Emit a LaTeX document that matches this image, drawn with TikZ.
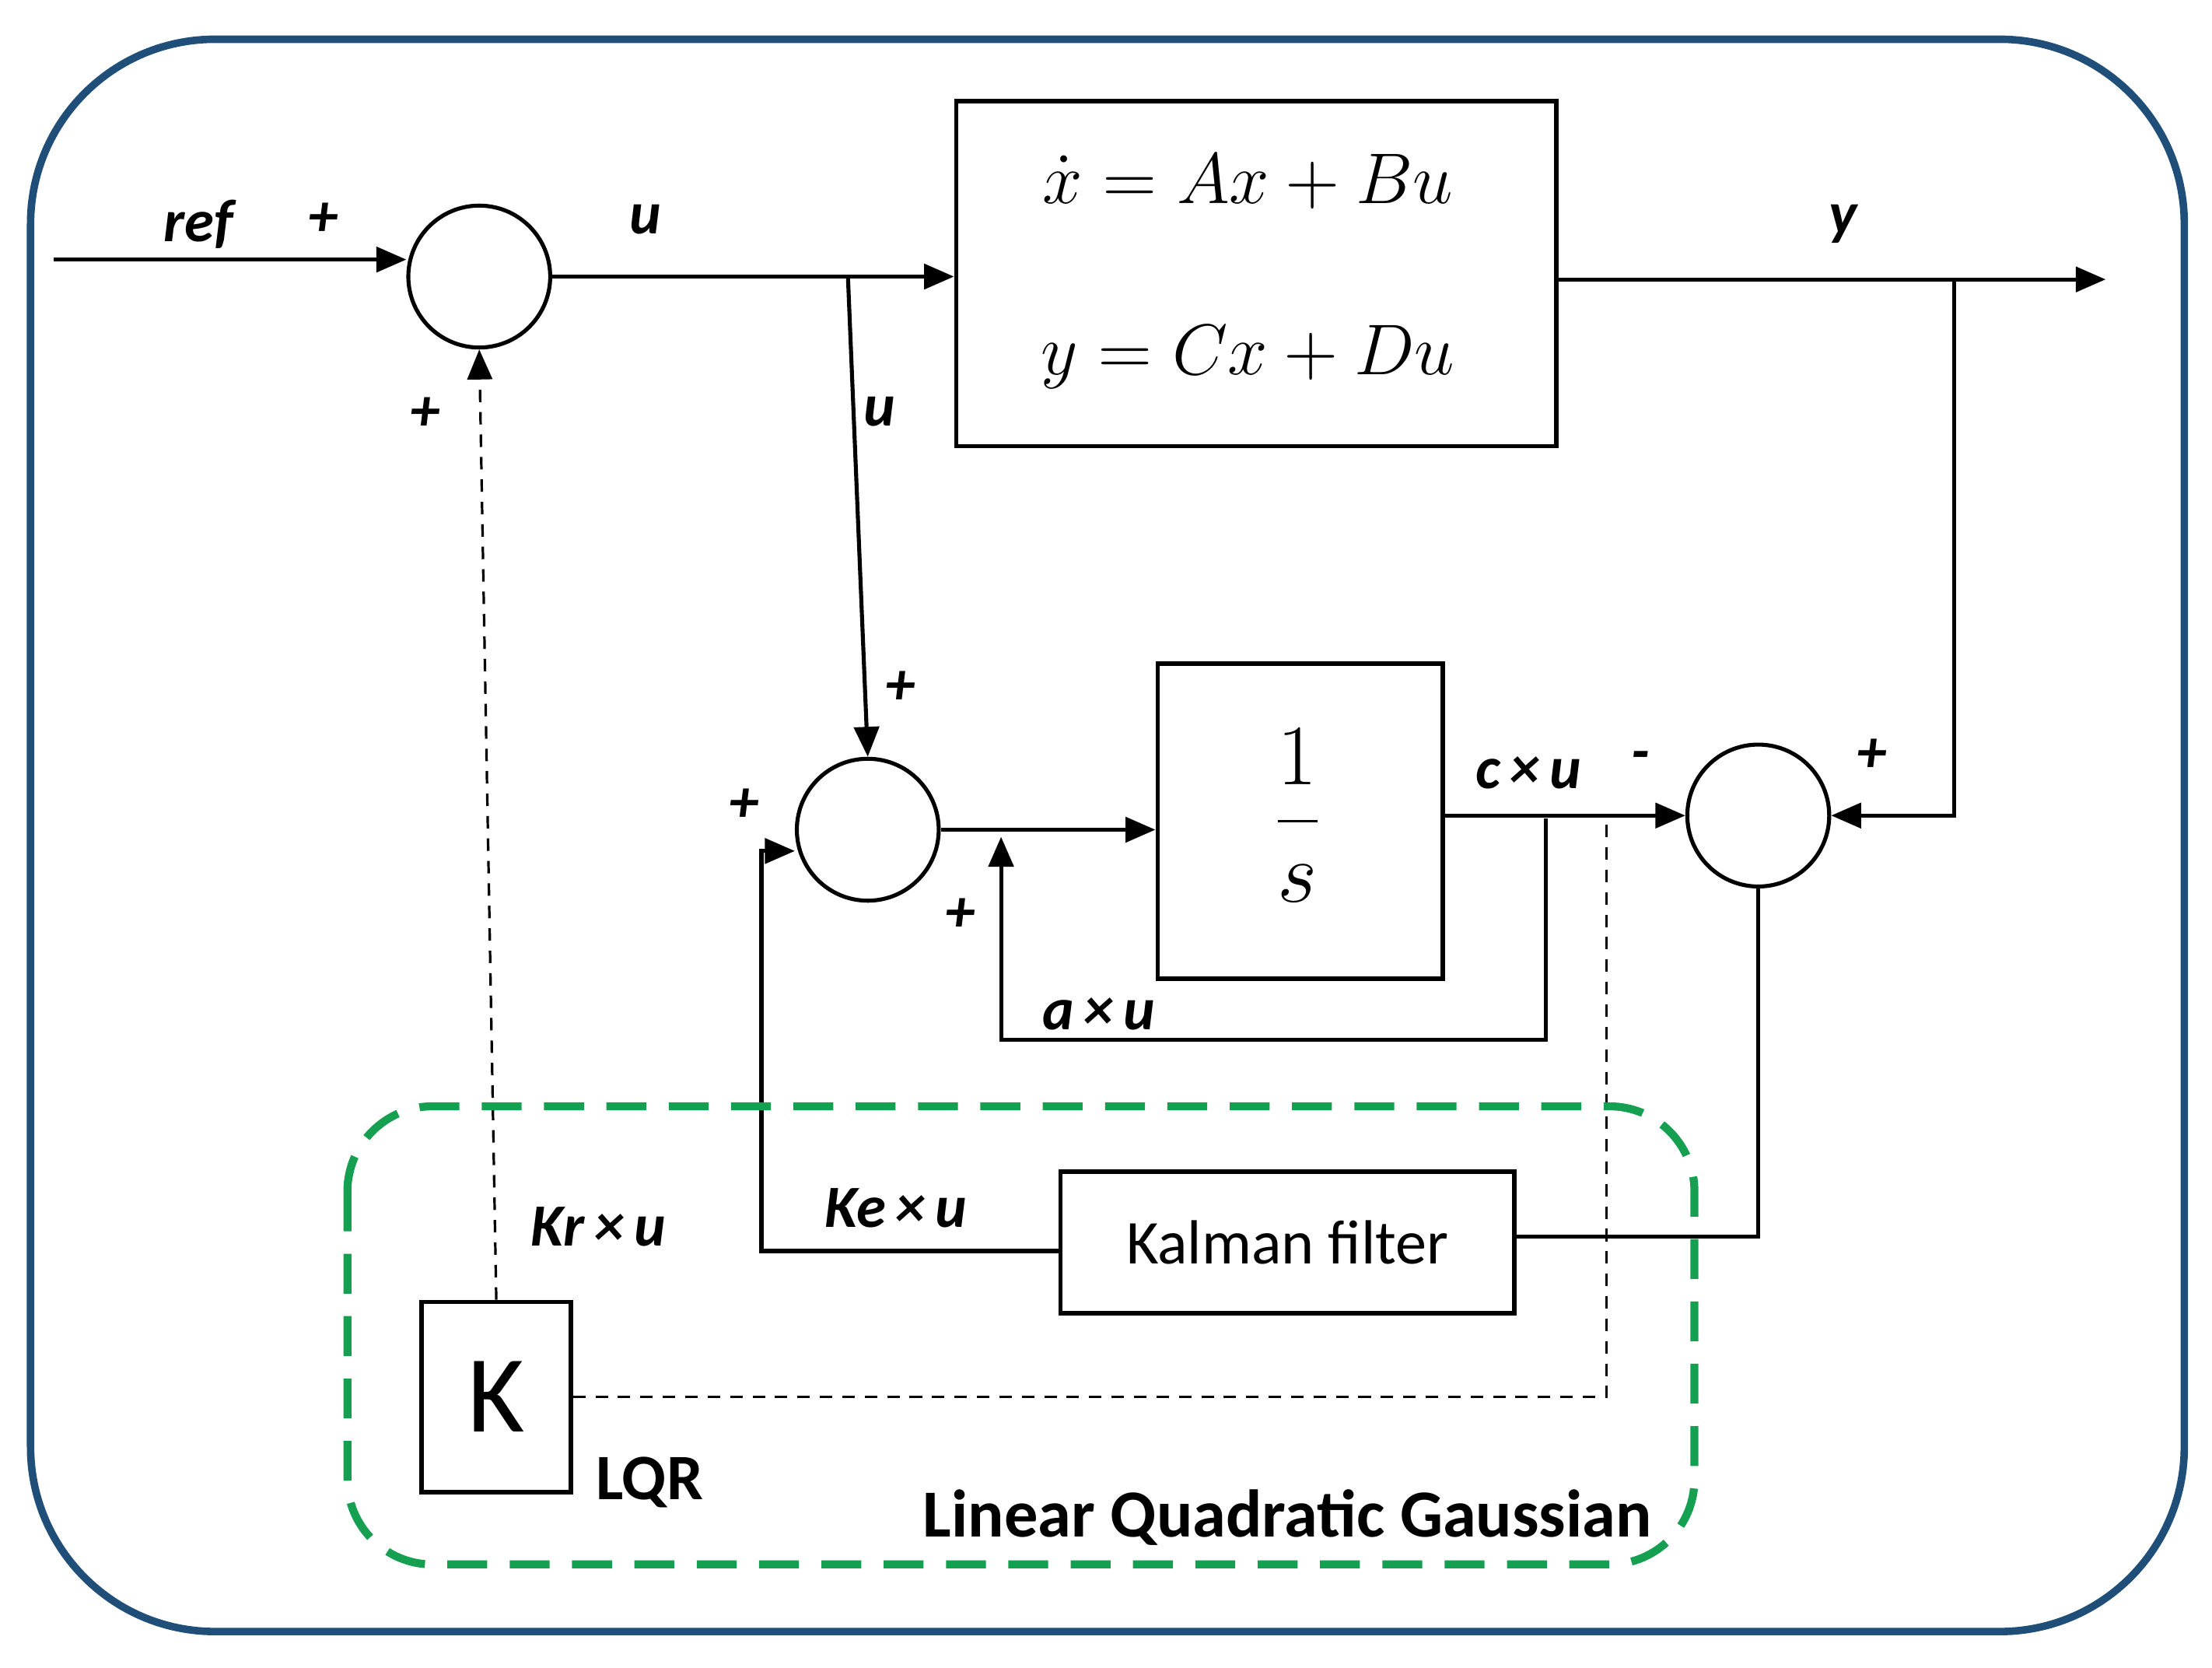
\documentclass[tikz,border=0pt]{standalone}
\usepackage{fontspec}
\setmainfont{Carlito}
\usetikzlibrary{arrows.meta}
\definecolor{frame}{RGB}{31,78,121}
\definecolor{lqg}{RGB}{20,160,80}
\begin{document}
\begin{tikzpicture}[x=0.01cm,y=-0.01cm,
  line width=0.8pt,
  arr/.style={-{Triangle[length=6pt,width=5pt]}},
  sum/.style={circle,draw,minimum size=1cm,inner sep=0pt},
  blk/.style={draw,line width=0.9pt},
  lab/.style={font=\fontsize{12}{14}\selectfont\bfseries\itshape},
  dsh/.style={line width=0.5pt,dash pattern=on 2.5pt off 2pt}]
\useasboundingbox (0,0) rectangle (1560,1176);
\node[draw=frame,line width=1.5pt,rounded corners=1.3cm,minimum width=15.18cm,minimum height=11.22cm] (outer) at (781,589) {};
\node[sum] (s1) at (338,195) {};
\node[sum] (s2) at (612,585) {};
\node[sum] (s3) at (1240,575) {};
\node[blk,minimum width=4.23cm,minimum height=2.43cm] (sys) at (886,193) {};
\node (eq1) at (880,128) {\fontsize{15}{18}\selectfont $\dot{x} = Ax + Bu$};
\node (eq2) at (880,252) {\fontsize{15}{18}\selectfont $y = Cx + Du$};
\node[blk,minimum width=2.01cm,minimum height=2.22cm] (int) at (917,579) {};
\node (frac) at (915,575) {\fontsize{17}{20}\selectfont $\displaystyle\frac{1}{s}$};
\node[blk,minimum width=3.2cm,minimum height=1cm,font=\fontsize{12.5}{15}\selectfont] (kal) at (908,876) {Kalman filter};
\node[blk,minimum width=1.05cm,minimum height=1.34cm,font=\fontsize{22}{26}\selectfont] (K) at (350,985) {K};
\coordinate (in) at (38,183);
\coordinate (out) at (1485,197);
\coordinate (bu) at (598,195);
\coordinate (by) at (1378,197);
\coordinate (ba) at (1090,577);
\coordinate (bd) at (1133,577);
\draw[arr] (in) -- (in -| s1.west);
\draw[arr] (s1.east) -- (sys.west |- s1.east);
\draw[arr] (sys.east |- out) -- (out);
\draw[arr] (bu) -- (s2.north);
\draw[arr] (s2.east) -- (int.west |- s2.east);
\draw[arr] (int.east |- s3.west) -- (s3.west);
\draw[arr] (by) -- (by |- s3.east) -- (s3.east);
\draw[arr] (ba) -- (1090,733) -- (706,733) -- (706,590);
\draw (s3.south) -- (s3.south |- 872,872) -- (kal.east |- 872,872);
\draw[arr] (kal.west |- 882,882) -- (537,882) -- (537,600) -- (s2.west |- 600,600);
\draw[dsh,-{Triangle[length=6pt,width=5pt]}] (K.north) -- (s1.south);
\draw[dsh] (K.east) -- (bd |- K.east) -- (bd);
\draw[lqg,line width=1.6pt,dash pattern=on 8pt off 4.5pt,rounded corners=0.6cm] (245,780) rectangle (1195,1103);
\node[lab] at (140,158) {ref};
\node[lab] at (228,155) {+};
\node[lab] at (455,155) {u};
\node[lab] at (1300,158) {y};
\node[lab] at (620,290) {u};
\node[lab] at (635,485) {+};
\node[lab] at (525,568) {+};
\node[lab] at (677,645) {+};
\node[lab] at (1320,533) {+};
\node[lab] at (300,292) {+};
\node[lab] at (1078,545) {c\,×\,u};
\node[lab] at (1157,537) {-};
\node[lab] at (775,715) {a\,×\,u};
\node[lab] at (632,852) {Ke\,×\,u};
\node[lab] at (422,865) {Kr\,×\,u};
\node[font=\fontsize{13}{15}\selectfont\bfseries] at (458,1045) {LQR};
\node[font=\fontsize{13.5}{16}\selectfont\bfseries] at (908,1070) {Linear Quadratic Gaussian};
\end{tikzpicture}
\end{document}
